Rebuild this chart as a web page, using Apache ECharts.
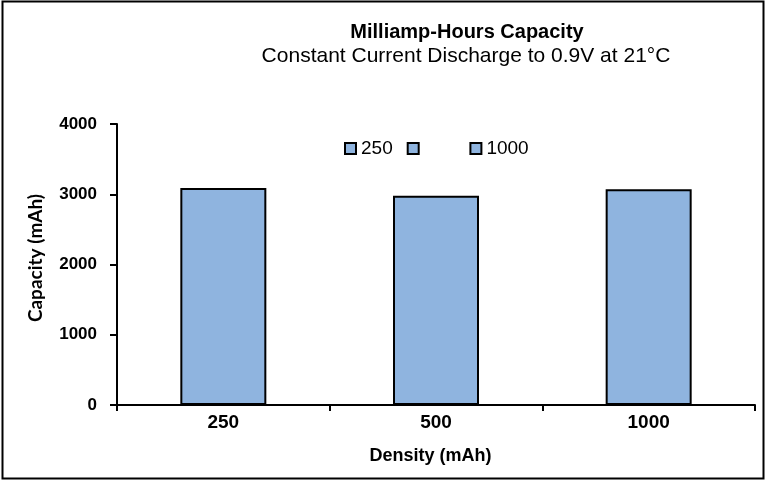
<!DOCTYPE html>
<html><head><meta charset="utf-8">
<script src="https://cdn.jsdelivr.net/npm/echarts@6/dist/echarts.min.js"></script>
<style>html,body{margin:0;padding:0;background:#fff}#c{width:767px;height:481px}</style>
</head><body><div id="c"></div>
<script>
const titleText = 'Milliamp-Hours Capacity';
const subtitleText = 'Constant Current Discharge to 0.9V at 21°C';
const categories = ['250', '500', '1000'];
const capacity = [3090, 2980, 3070];
const yTicks = [0, 1000, 2000, 3000, 4000];
const xName = 'Density (mAh)';
const yName = 'Capacity (mAh)';

const chart = echarts.init(document.getElementById('c'), null, {renderer: 'canvas'});
const font = '"Liberation Sans", Arial, sans-serif';
const series = categories.map((c, i) => ({
  name: c, type: 'bar', stack: 's', barWidth: 86,
  itemStyle: {color: '#8FB4DF', borderColor: '#000', borderWidth: 2},
  data: capacity.map((v, j) => j === i ? v : '-')
}));
chart.setOption({
  animation: false,
  textStyle: {fontFamily: font},
  graphic: [
    {type: 'rect', shape: {x: 2.5, y: 1.5, width: 761, height: 477}, style: {fill: 'none', stroke: '#000', lineWidth: 2}, z: 100},
    {type: 'text', x: 36, y: 258, rotation: Math.PI / 2,
     style: {text: yName, font: 'bold 19px Lato, sans-serif', fill: '#000', align: 'center', verticalAlign: 'middle'}}
  ],
  title: [
    {text: titleText, left: 462, top: 17, textAlign: 'center', textStyle: {fontFamily: font, fontWeight: 'bold', fontSize: 20, color: '#000'}},
    {text: subtitleText, left: 461, top: 41, textAlign: 'center', textStyle: {fontFamily: font, fontWeight: 'normal', fontSize: 21, color: '#000'}}
  ],
  legend: {
    left: 344, top: 139, padding: 0, itemWidth: 11, itemHeight: 11, itemGap: 14,
    icon: 'rect',
    itemStyle: {borderColor: '#000', borderWidth: 2},
    textStyle: {fontFamily: font, fontSize: 19, color: '#000'},
    data: categories.map((c, i) => i === 1 ? {name: c, textStyle: {color: 'rgba(0,0,0,0)'}} : {name: c})
  },
  grid: {left: 117, right: 12, top: 124, bottom: 76},
  xAxis: {
    type: 'category', data: categories,
    name: xName, nameLocation: 'middle', nameGap: 42,
    nameTextStyle: {fontFamily: font, fontWeight: 'bold', fontSize: 18, color: '#000', padding: [0, 11, 0, 0]},
    axisLine: {lineStyle: {color: '#000', width: 2}},
    axisTick: {show: true, length: 6, lineStyle: {color: '#000', width: 2}},
    axisLabel: {fontFamily: font, fontWeight: 'bold', fontSize: 19, color: '#000', margin: 8}
  },
  yAxis: {
    type: 'value', min: yTicks[0], max: yTicks[yTicks.length - 1], interval: 1000,
    axisLine: {show: true, lineStyle: {color: '#000', width: 2}},
    axisTick: {show: true, length: 7, lineStyle: {color: '#000', width: 2}},
    splitLine: {show: false},
    axisLabel: {fontFamily: font, fontWeight: 'bold', fontSize: 17, color: '#000', margin: 20,
      formatter: v => String(v)}
  },
  series: series
});
</script></body></html>
